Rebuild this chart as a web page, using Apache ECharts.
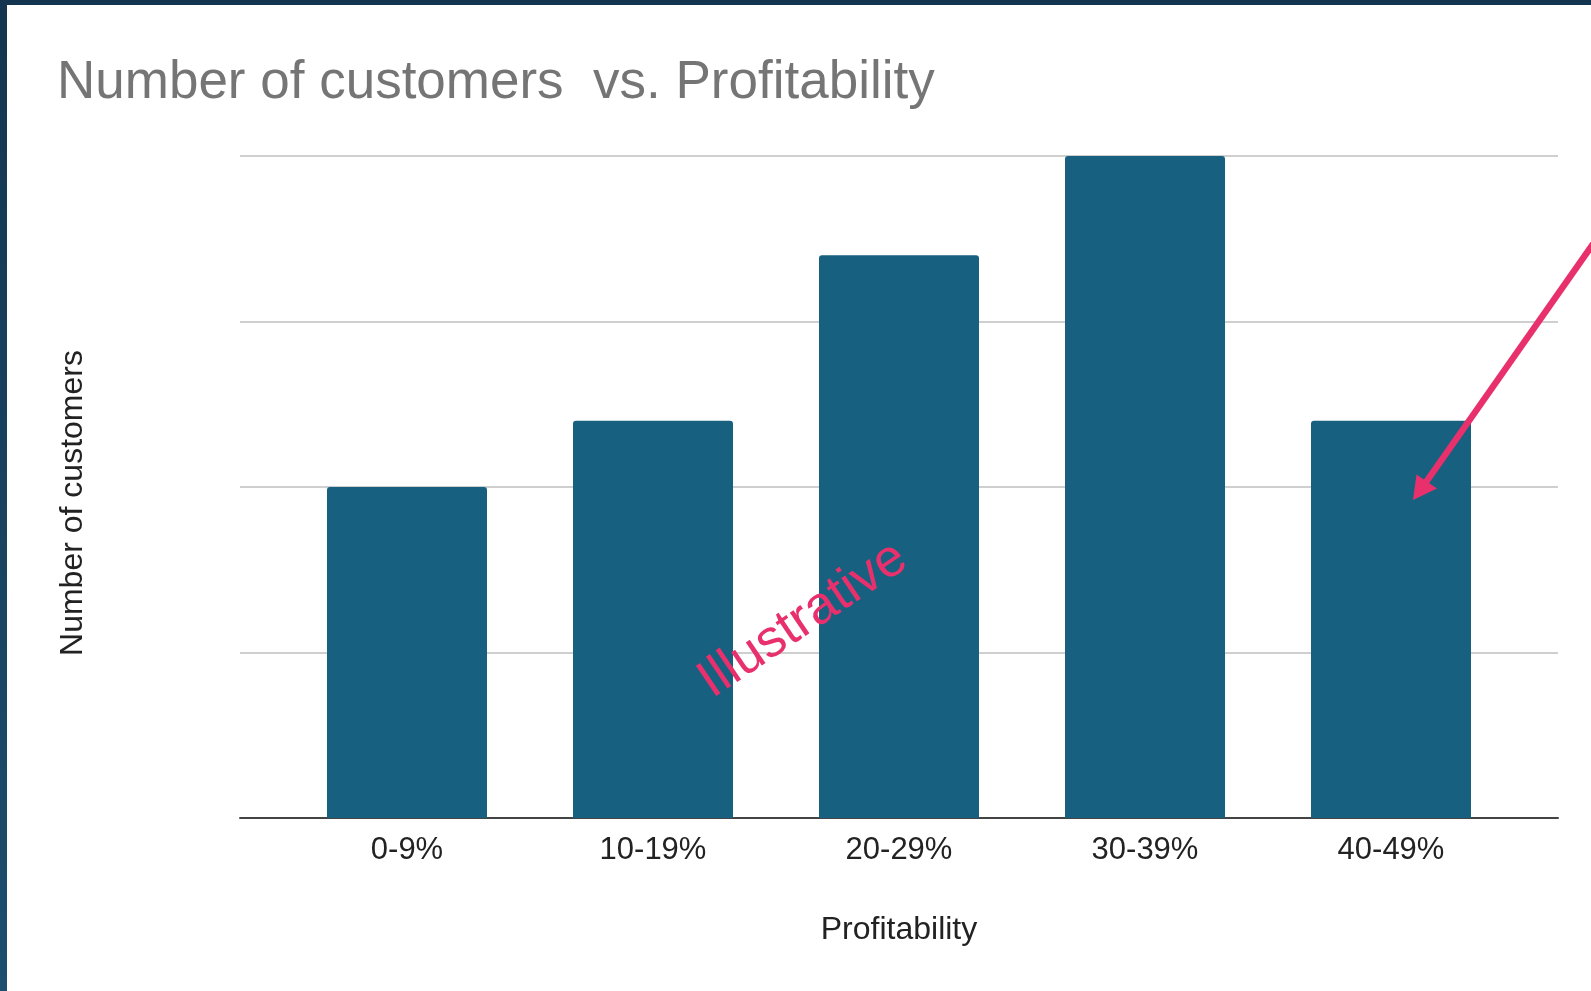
<!DOCTYPE html>
<html>
<head>
<meta charset="utf-8">
<script src="https://cdn.jsdelivr.net/npm/echarts@6/dist/echarts.min.js"></script>
<style>
  html, body { margin: 0; padding: 0; background: #fff; }
  #chart { position: absolute; left: 0; top: 0; width: 1591px; height: 991px; }
  .edge-top { position: absolute; left: 0; top: 0; width: 1591px; height: 5px; background: #13354f; }
  .edge-left { position: absolute; left: 0; top: 0; width: 7px; height: 991px;
    background: linear-gradient(#13354f, #1d4e6e); }
</style>
</head>
<body>
<div id="chart"></div>
<div class="edge-top"></div>
<div class="edge-left"></div>
<script>
// data
var categories = ['0-9%', '10-19%', '20-29%', '30-39%', '40-49%'];
var customers = [5, 6, 8.5, 10, 6];
var yMax = 10;
var yStep = 2.5;

var myChart = echarts.init(document.getElementById('chart'));
var font = 'Liberation Sans, Arial, sans-serif';

var option = {
    backgroundColor: '#fff',
    animation: false,
    title: {
        text: 'Number of customers  vs. Profitability',
        left: 57,
        top: 57,
        padding: 0,
        textStyle: { color: '#757575', fontSize: 53, fontWeight: 'normal', fontFamily: font }
    },
    grid: [
        // full width: gridlines + baseline
        { left: 240, right: 33, top: 156, bottom: 173 },
        // inner: bars + category labels
        { left: 284, right: 77, top: 156, bottom: 173 }
    ],
    xAxis: [
        {
            gridIndex: 0,
            type: 'category',
            data: categories,
            axisLine: { lineStyle: { color: '#444', width: 2 } },
            axisTick: { show: false },
            axisLabel: { show: false },
            name: 'Profitability',
            nameLocation: 'middle',
            nameGap: 96,
            nameTextStyle: { color: '#222', fontSize: 32, fontFamily: font }
        },
        {
            gridIndex: 1,
            type: 'category',
            data: categories,
            axisLine: { show: false },
            axisTick: { show: false },
            axisLabel: { color: '#222', fontSize: 31, fontFamily: font, margin: 17 }
        }
    ],
    yAxis: [
        {
            gridIndex: 0,
            type: 'value',
            min: 0,
            max: yMax,
            interval: yStep,
            axisLine: { show: false },
            axisTick: { show: false },
            axisLabel: { show: false },
            splitLine: { lineStyle: { color: '#cfcfcf', width: 2 } },
            name: 'Number of customers',
            nameLocation: 'middle',
            nameGap: 151,
            nameTextStyle: { color: '#222', fontSize: 32, fontFamily: font, padding: [0, 32, 0, 0] }
        },
        {
            gridIndex: 1,
            type: 'value',
            min: 0,
            max: yMax,
            show: false
        }
    ],
    series: [
        {
            name: 'Number of customers',
            type: 'bar',
            xAxisIndex: 1,
            yAxisIndex: 1,
            data: customers,
            barWidth: 160,
            itemStyle: { color: '#17607f', borderRadius: [3, 3, 0, 0] }
        }
    ],
    graphic: [
        {
            type: 'text',
            x: 803,
            y: 620,
            rotation: 34 * Math.PI / 180,
            z: 100,
            style: {
                text: 'Illustrative',
                fill: '#e8306d',
                font: '53px ' + font,
                textAlign: 'center',
                textVerticalAlign: 'middle'
            }
        },
        {
            type: 'line',
            z: 100,
            shape: { x1: 1640, y1: 177, x2: 1424, y2: 485 },
            style: { stroke: '#e8306d', lineWidth: 6.5 }
        },
        {
            type: 'polygon',
            z: 100,
            shape: { points: [[1413, 500], [1416.5, 474.5], [1437, 488.5]] },
            style: { fill: '#e8306d' }
        }
    ]
};

myChart.setOption(option);
</script>
</body>
</html>
